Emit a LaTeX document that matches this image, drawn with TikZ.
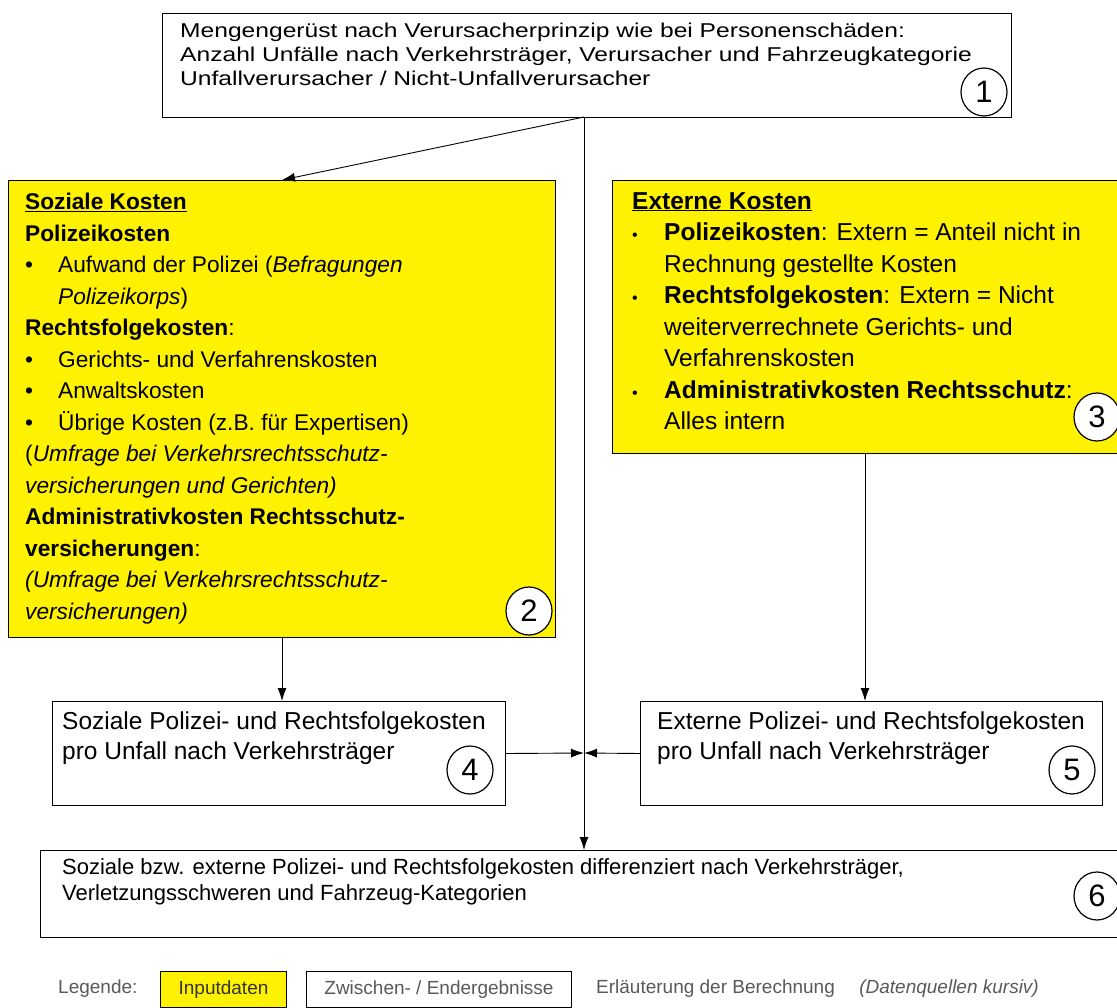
\documentclass[tikz,border=0pt]{standalone}
\usepackage{fontspec}
\setmainfont{Liberation Sans}
\newfontfamily\widefont{Liberation Sans}[FakeStretch=1.23]
\usetikzlibrary{positioning,shapes.geometric,arrows.meta}

\begin{document}
\begin{tikzpicture}[x=1pt,y=-1pt,
    inbox/.style={rectangle, draw, fill=yellow, line width=1pt, inner sep=0pt, anchor=north west},
    resbox/.style={rectangle, draw, fill=white, line width=1pt, inner sep=0pt, anchor=north west},
    txt/.style={anchor=north west, align=left, inner sep=0pt},
    num/.style={ellipse, draw, fill=white, line width=1.2pt, minimum width=46pt, minimum height=48pt, inner sep=0pt, font=\fontsize{31}{31}\selectfont},
    legtxt/.style={anchor=west, inner sep=0pt, text=black!65, font=\fontsize{19}{19}\selectfont},
    arrow/.style={-{Latex[length=13pt,width=9pt]}, line width=0.9pt}]

    \useasboundingbox (0,0) rectangle (1117,1008);

    % boxes
    \node (mg) [resbox, minimum width=849pt, minimum height=104pt] at (162,13) {};
    \node (soz) [inbox, minimum width=547pt, minimum height=457pt] at (8,180) {};
    \node (ext) [inbox, minimum width=505pt, minimum height=273pt] at (612,180) {};
    \node (szk) [resbox, minimum width=453pt, minimum height=104pt] at (52,701) {};
    \node (exk) [resbox, minimum width=462pt, minimum height=104pt] at (640,701) {};
    \node (fin) [resbox, minimum width=1085pt, minimum height=87pt] at (40,850) {};

    % texts
    \node (mgt) [txt, font=\widefont\fontsize{20}{24}\selectfont] at (180,23)
        {Mengengerüst nach Verursacherprinzip wie bei Personenschäden:\\
         Anzahl Unfälle nach Verkehrsträger, Verursacher und Fahrzeugkategorie\\
         Unfallverursacher / Nicht-Unfallverursacher};
    \node (sozt) [txt, font=\fontsize{22.7}{31.5}\selectfont] at (25,193)
        {\underline{\textbf{Soziale Kosten}}\\
         \textbf{Polizeikosten}\\
         \makebox[33pt][l]{\textbullet}Aufwand der Polizei (\textit{Befragungen}\\
         \hspace*{33pt}\textit{Polizeikorps})\\
         \textbf{Rechtsfolgekosten}:\\
         \makebox[33pt][l]{\textbullet}Gerichts- und Verfahrenskosten\\
         \makebox[33pt][l]{\textbullet}Anwaltskosten\\
         \makebox[33pt][l]{\textbullet}Übrige Kosten (z.B. für Expertisen)\\
         (\textit{Umfrage bei Verkehrsrechtsschutz-}\\
         \textit{versicherungen und Gerichten)}\\
         \textbf{Administrativkosten Rechtsschutz-}\\
         \textbf{versicherungen}:\\
         \textit{(Umfrage bei Verkehrsrechtsschutz-}\\
         \textit{versicherungen)}};
    \node (extt) [txt, font=\fontsize{24.5}{31.5}\selectfont] at (632,192)
        {\underline{\textbf{Externe Kosten}}\\
         \makebox[32pt][l]{\fontsize{16}{16}\selectfont\textbullet}\textbf{Polizeikosten}: Extern = Anteil nicht in\\
         \hspace*{32pt}Rechnung gestellte Kosten\\
         \makebox[32pt][l]{\fontsize{16}{16}\selectfont\textbullet}\textbf{Rechtsfolgekosten}: Extern = Nicht\\
         \hspace*{32pt}weiterverrechnete Gerichts- und\\
         \hspace*{32pt}Verfahrenskosten\\
         \makebox[32pt][l]{\fontsize{16}{16}\selectfont\textbullet}\textbf{Administrativkosten Rechtsschutz}:\\
         \hspace*{32pt}Alles intern};
    \node (szkt) [txt, font=\fontsize{24.5}{30}\selectfont] at (62,712)
        {Soziale Polizei- und Rechtsfolgekosten\\
         pro Unfall nach Verkehrsträger};
    \node (exkt) [txt, font=\fontsize{24.5}{30}\selectfont] at (657,712)
        {Externe Polizei- und Rechtsfolgekosten\\
         pro Unfall nach Verkehrsträger};
    \node (fint) [txt, font=\fontsize{22}{26}\selectfont] at (62,858)
        {Soziale bzw. externe Polizei- und Rechtsfolgekosten differenziert nach Verkehrsträger,\\
         Verletzungsschweren und Fahrzeug-Kategorien};

    % numbers
    \node (n1) [num] at (984,92) {1};
    \node (n2) [num] at (529,611) {2};
    \node (n3) [num] at (1097,417) {3};
    \node (n4) [num] at (470,770) {4};
    \node (n5) [num] at (1072,770) {5};
    \node (n6) [num] at (1097,896) {6};

    % connectors
    \coordinate (tap) at (584,117);
    \coordinate (join) at (584,753);
    \draw [arrow] (tap) -- (soz.north);
    \draw [arrow] (tap) -- (tap |- fin.north);
    \draw [arrow] (soz.south) -- (soz.south |- szk.north);
    \draw [arrow] (ext.south) -- (ext.south |- exk.north);
    \draw [arrow] (szk.east) -- (join);
    \draw [arrow] (exk.west) -- (join);

    % legend
    \node (leg) [legtxt] at (58,989) {Legende:};
    \node (legin) [inbox, minimum width=126pt, minimum height=36pt, font=\fontsize{19}{19}\selectfont, text=black!80] at (160,971) {Inputdaten};
    \node (legres) [resbox, minimum width=265pt, minimum height=36pt, font=\fontsize{19}{19}\selectfont, text=black!65] at (306,971) {Zwischen- / Endergebnisse};
    \node (legcalc) [legtxt] at (596,989) {Erläuterung der Berechnung};
    \node (legsrc) [legtxt, right=24pt of legcalc] {\textit{(Datenquellen kursiv)}};
\end{tikzpicture}
\end{document}
